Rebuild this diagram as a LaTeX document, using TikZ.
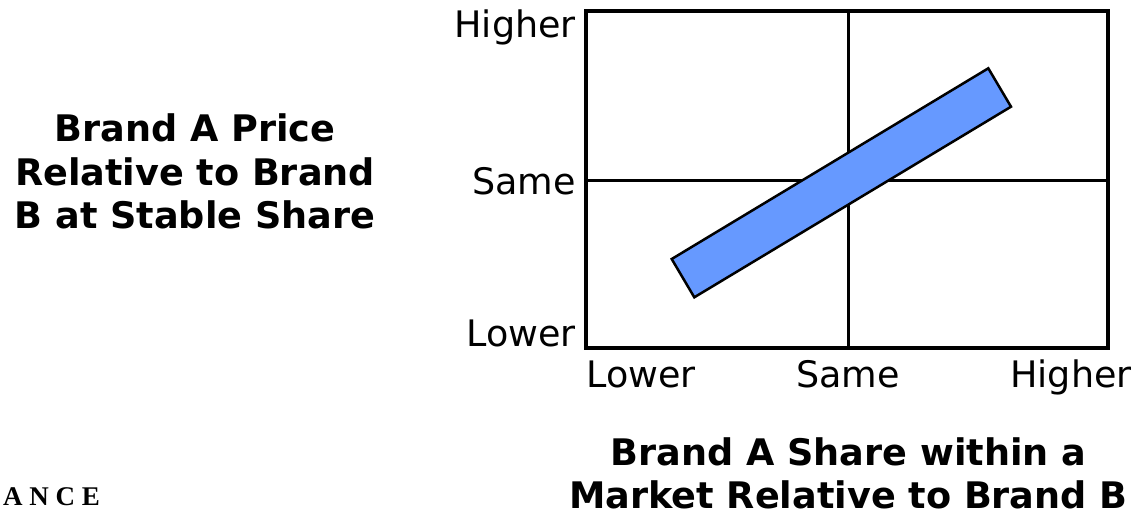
\documentclass[tikz,border=0pt]{standalone}
\usepackage{fontspec}
\setmainfont{DejaVu Sans}
\newfontfamily\timesfont{Liberation Serif}
\usetikzlibrary{positioning}
\definecolor{barblue}{HTML}{6699FF}

\begin{document}
\begin{tikzpicture}[x=1pt,y=-1pt,
    axislabel/.style={inner sep=0pt,font=\fontsize{36.5}{42}\selectfont},
    axistitle/.style={inner sep=0pt,align=center,font=\bfseries\fontsize{36.6}{43.2}\selectfont}]
        \useasboundingbox (0,0) rectangle (1137,515);

        \coordinate (TL) at (586,11);
        \coordinate (BR) at (1108,348);
        \coordinate (XM) at (848,11);
        \coordinate (XMB) at (848,348);
        \coordinate (YM) at (586,180);
        \coordinate (YMR) at (1108,180);

        \coordinate (P1) at (671.7,259);
        \coordinate (P2) at (694.3,297.3);
        \coordinate (P3) at (1011,106.7);
        \coordinate (P4) at (988.3,68.3);

        \draw[line width=3pt]  (XM) -- (XMB);
        \draw[line width=3pt]  (YM) -- (YMR);
        \draw[line width=4pt]  (TL) rectangle (BR);

        \draw[fill=barblue,line width=2.5pt,line join=miter]  (P1) -- (P2) -- (P3) -- (P4) -- cycle;

        \node[axislabel,anchor=base east] (yhigh) at (576,37) {Higher};
        \node[axislabel,anchor=base east] (ysame) at (576,194) {Same};
        \node[axislabel,anchor=base east] (ylow) at (576,346.5) {Lower};

        \node[axislabel,anchor=base] (xlow) at (641,387) {Lower};
        \node[axislabel,anchor=base] (xsame) at (848,387) {Same};
        \node[axislabel,anchor=base] (xhigh) at (1071,387) {Higher};

        \node[axistitle] (ytitle) at (195,171.5) {Brand A Price\\Relative to Brand\\B at Stable Share};
        \node[axistitle] (xtitle) at (848.5,473.5) {Brand A Share within a\\Market Relative to Brand B};

        \node[inner sep=0pt,anchor=base west,font=\timesfont\bfseries\fontsize{27}{30}\selectfont] (ance) at (3,505) {A N C E};
    \end{tikzpicture}
\end{document}
